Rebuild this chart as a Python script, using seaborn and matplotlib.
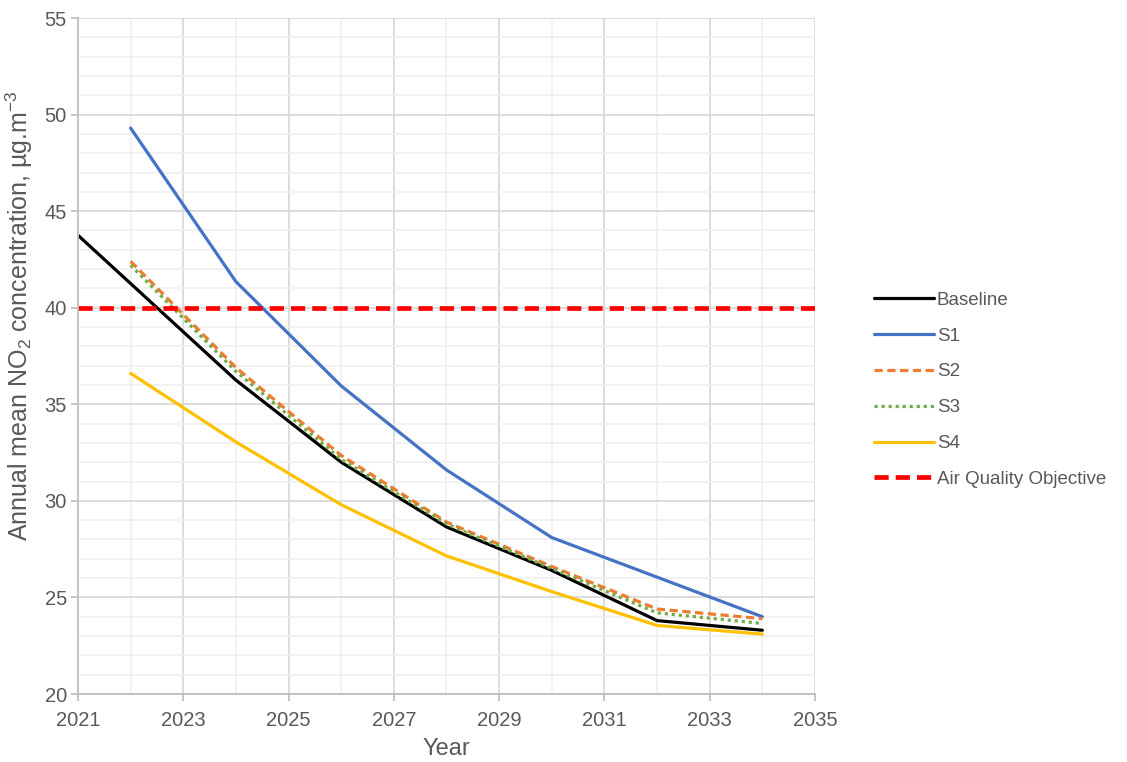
import numpy as np
import pandas as pd
import matplotlib
matplotlib.use("Agg")
import matplotlib.pyplot as plt
from matplotlib.ticker import MultipleLocator
import seaborn as sns

# values
years = [2022, 2024, 2026, 2028, 2030, 2032, 2034]
baseline_years = [2021] + years
baseline = [43.75, 41.25, 36.25, 32.0, 28.65, 26.4, 23.8, 23.3]
s1 = [49.3, 41.35, 35.95, 31.6, 28.1, 26.05, 24.0]
s2 = [42.4, 36.9, 32.35, 28.9, 26.6, 24.4, 23.9]
s3 = [42.2, 36.7, 32.15, 28.8, 26.5, 24.2, 23.65]
s4 = [36.6, 33.05, 29.8, 27.15, 25.3, 23.55, 23.1]
aqo_years = [2021, 2035]
aqo = [40, 40]
xticks = list(range(2021, 2036, 2))

series = [
    ("Baseline", baseline_years, baseline, "black", "-", 2.3),
    ("S1", years, s1, "#4472C4", "-", 2.3),
    ("S2", years, s2, "#ED7D31", (0, (2.6, 1.4)), 2.3),
    ("S3", years, s3, "#70AD47", (0, (1, 1.2)), 2.3),
    ("S4", years, s4, "#FFC000", "-", 2.3),
    ("Air Quality Objective", aqo_years, aqo, "#FF0000", (0, (3, 1.5)), 3.4),
]

sns.set_theme(style="white")
plt.rcParams['font.family'] = ['Liberation Sans', 'DejaVu Sans']
plt.rcParams['mathtext.fontset'] = 'custom'
plt.rcParams['mathtext.rm'] = 'Liberation Sans'
plt.rcParams['mathtext.default'] = 'regular'
txt = "#595959"

fig = plt.figure(figsize=(11.27, 7.62), dpi=100)
ax = fig.add_axes([78 / 1127, 68 / 762, 737 / 1127, 676 / 762])

for name, xs, ys, col, ls, lw in series:
    df = pd.DataFrame({"Year": xs, "value": ys})
    sns.lineplot(data=df, x="Year", y="value", ax=ax, color=col,
                 linestyle=ls, linewidth=lw, label=name)

ax.set_xlim(2021, 2035)
ax.set_ylim(20, 55)
ax.set_xticks(xticks)
ax.xaxis.set_minor_locator(MultipleLocator(1))
ax.yaxis.set_major_locator(MultipleLocator(5))
ax.yaxis.set_minor_locator(MultipleLocator(1))
ax.grid(which="major", color="#d9d9d9", linewidth=1.3)
ax.grid(which="minor", color="#efefef", linewidth=1.1)
ax.set_axisbelow(True)

for side in ["top", "right"]:
    ax.spines[side].set_visible(False)
for side in ["left", "bottom"]:
    ax.spines[side].set_color("#bfbfbf")
    ax.spines[side].set_linewidth(1.3)

ax.tick_params(which="major", direction="out", length=5, width=1.3,
               color="#bfbfbf", labelsize=14.5, labelcolor=txt,
               left=True, bottom=True)
ax.tick_params(axis="x", which="major", pad=7)
ax.tick_params(axis="y", which="major", pad=3)
ax.tick_params(which="minor", length=0)

ax.set_xlabel("Year", fontsize=17, color=txt, labelpad=6)
ax.set_ylabel("Annual mean NO$_2$ concentration, µg.m$^{-3}$",
              fontsize=18, color=txt)
ax.yaxis.set_label_coords(-0.059, 0.56)

leg = ax.legend(loc="center left", bbox_to_anchor=(1.057, 0.45), frameon=False,
                fontsize=13.5, labelspacing=1.0, handlelength=3.2,
                handletextpad=0.15)
for t in leg.get_texts():
    t.set_color(txt)

fig.savefig("out.png", dpi=100, facecolor="white")
